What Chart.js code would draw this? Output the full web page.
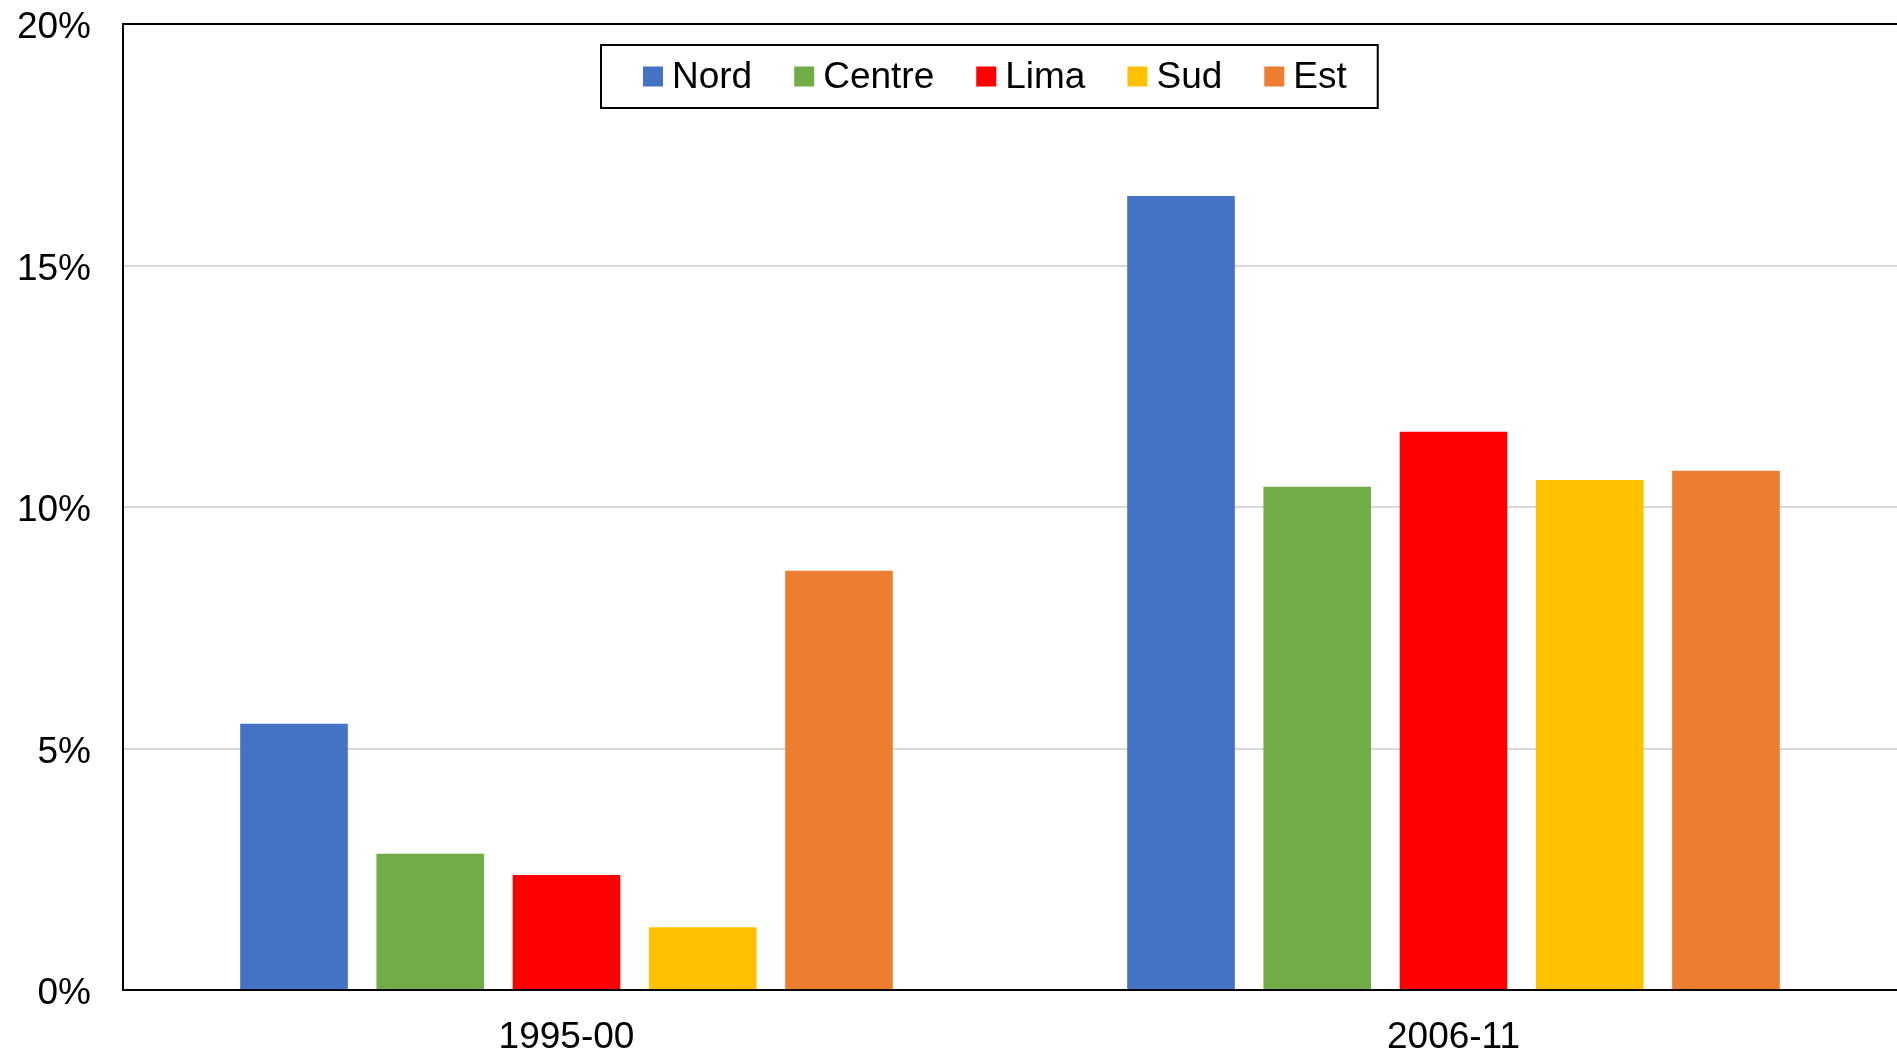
<!DOCTYPE html>
<html>
<head>
<meta charset="utf-8">
<script src="https://cdn.jsdelivr.net/npm/chart.js@4.4.1/dist/chart.umd.min.js"></script>
<style>
  html, body { margin: 0; padding: 0; background: #fff; }
  #wrap { width: 1897px; height: 1052px; position: relative; }
</style>
</head>
<body>
<div id="wrap"><canvas id="myChart"></canvas></div>
<script>
// periods on the x axis
const periods = ['1995-00', '2006-11'];

// share per region, in percent
const nord = [5.51, 16.44];
const centre = [2.82, 10.42];
const lima = [2.38, 11.56];
const sud = [1.30, 10.56];
const est = [8.68, 10.75];

const regions = ['Nord', 'Centre', 'Lima', 'Sud', 'Est'];
const regionColors = ['#4472C4', '#70AD47', '#FF0000', '#FFC000', '#ED7D31'];

const yTicks = [0, 5, 10, 15, 20];

const FONT = 'Liberation Sans, Arial, sans-serif';

// boxed legend drawn inside the plot area
const boxLegend = {
  id: 'boxLegend',
  afterDraw(chart) {
    const ctx = chart.ctx;
    const area = chart.chartArea;
    const sw = 20, gapText = 9, gapItem = 42, padL = 42, padR = 31;
    ctx.save();
    ctx.font = '37px ' + FONT;
    const widths = regions.map(r => ctx.measureText(r).width);
    let boxW = padL + padR + gapItem * (regions.length - 1);
    widths.forEach(w => { boxW += sw + gapText + w; });
    const boxH = 63;
    const left = Math.round(area.left + (area.width - boxW) / 2 - 21);
    const top = 45;

    ctx.fillStyle = '#fff';
    ctx.fillRect(left, top, boxW, boxH);
    ctx.strokeStyle = '#000';
    ctx.lineWidth = 2;
    ctx.strokeRect(left, top, boxW, boxH);

    let x = left + padL;
    const cy = top + boxH / 2;
    ctx.textBaseline = 'middle';
    ctx.textAlign = 'left';
    regions.forEach((r, i) => {
      ctx.fillStyle = regionColors[i];
      ctx.fillRect(x, cy - 10, sw, sw);
      ctx.fillStyle = '#000';
      ctx.fillText(r, x + sw + gapText, cy + 1);
      x += sw + gapText + widths[i] + gapItem;
    });
    ctx.restore();
  }
};

const ctx = document.getElementById('myChart').getContext('2d');
const seriesValues = [nord, centre, lima, sud, est];

const myChart = new Chart(ctx, {
  type: 'bar',
  data: {
    labels: periods,
    datasets: regions.map((r, i) => ({
      label: r,
      data: seriesValues[i],
      backgroundColor: regionColors[i],
      borderWidth: 0,
      categoryPercentage: 0.768,
      barPercentage: 0.79
    }))
  },
  options: {
    responsive: true,
    maintainAspectRatio: false,
    animation: false,
    layout: { padding: { top: 24, right: 0, left: 0, bottom: 0 } },
    plugins: {
      legend: { display: false },
      tooltip: { enabled: false }
    },
    scales: {
      x: {
        grid: { display: false, drawTicks: false },
        border: { display: true, color: '#000', width: 2 },
        ticks: {
          color: '#000',
          font: { family: FONT, size: 37 },
          padding: 26
        },
        afterFit(scale) { scale.height = 62; }
      },
      y: {
        min: 0,
        max: 20,
        afterBuildTicks(scale) {
          scale.ticks = yTicks.map(v => ({ value: v }));
        },
        grid: {
          drawTicks: false,
          lineWidth: 2,
          color: c => (c.tick && c.tick.value === 20) ? '#000' : '#D9D9D9'
        },
        border: { display: true, color: '#000', width: 2 },
        ticks: {
          color: '#000',
          font: { family: FONT, size: 37 },
          padding: 32,
          labelOffset: 4,
          callback: v => v + '%'
        },
        afterFit(scale) {
          scale.width = 123;
          // the top label may overhang the plot edge
          scale.paddingTop = 0;
          scale.paddingBottom = 0;
        }
      }
    }
  },
  plugins: [boxLegend]
});
</script>
</body>
</html>
